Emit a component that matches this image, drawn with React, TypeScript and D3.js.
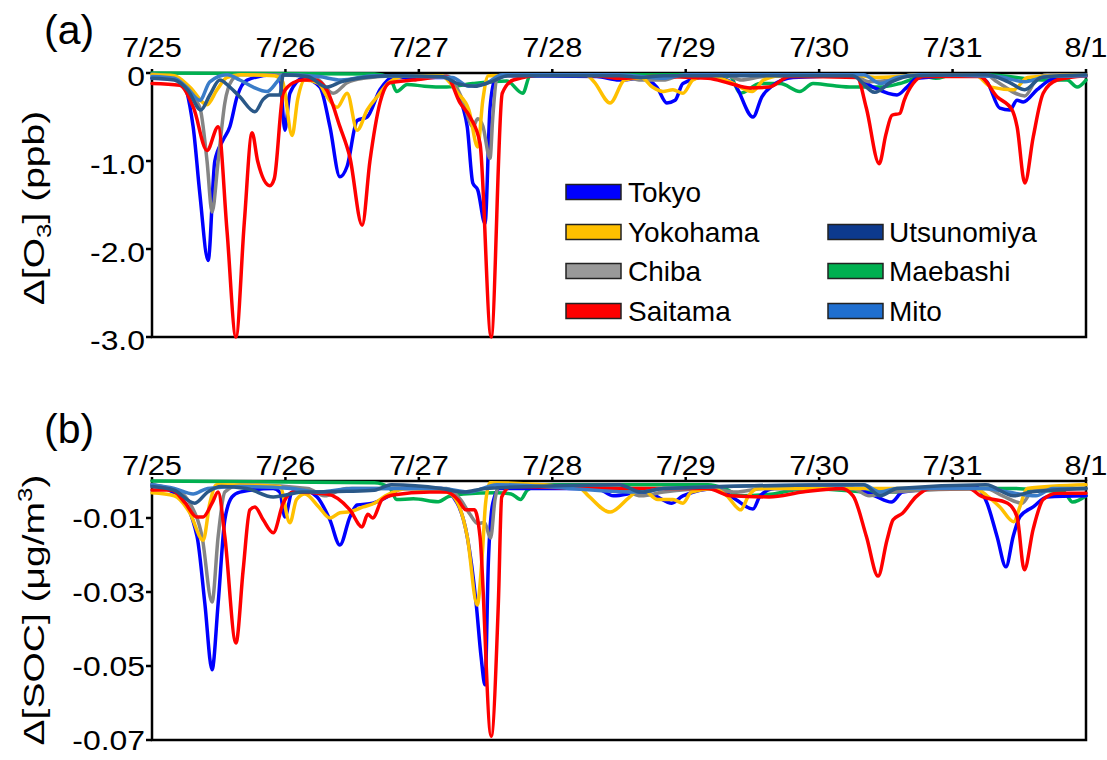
import React from "react";
import * as d3 from "d3";

type P = [number, number]; // [hours since 7/25 00:00, value]

const dateLabels = ["7/25", "7/26", "7/27", "7/28", "7/29", "7/30", "7/31", "8/1"];
const o3TickValues = [0, -1, -2, -3];
const o3TickLabels = ["0", "-1.0", "-2.0", "-3.0"];
const socTickValues = [-0.01, -0.03, -0.05, -0.07];
const socTickLabels = ["-0.01", "-0.03", "-0.05", "-0.07"];

const cities = ["Tokyo", "Yokohama", "Chiba", "Saitama", "Utsunomiya", "Maebashi", "Mito"];
const lineColors: Record<string, string> = {
  Tokyo: "#0000ff",
  Yokohama: "#ffc000",
  Chiba: "#858585",
  Saitama: "#ff0000",
  Utsunomiya: "#2a5888",
  Maebashi: "#00b050",
  Mito: "#3a7cc8",
};
const legendColors: Record<string, string> = {
  Tokyo: "#0000ff",
  Yokohama: "#ffc000",
  Chiba: "#999999",
  Saitama: "#ff0000",
  Utsunomiya: "#0d3a8e",
  Maebashi: "#00b050",
  Mito: "#1f6fd0",
};

// ---------- Δ[O3] (ppb) ----------
const tokyoO3: P[] = [[0,-0.06],[5,-0.07],[7.4,-0.61],[8.6,-1.37],[10.1,-2.13],[11.3,-1.0],[12.8,-0.76],[14,-0.61],[15.3,-0.27],[17.1,-0.08],[21.8,-0.02],[23,-0.05],[23.9,-0.65],[24.8,-0.23],[27.2,-0.06],[30.2,-0.16],[32,-0.61],[33.8,-1.18],[35.1,-1.06],[36.9,-0.54],[38.7,-0.5],[41,-0.19],[43.3,-0.05],[53,-0.05],[54.9,-0.23],[56.7,-0.61],[57.7,-1.25],[58.6,-1.33],[59.9,-1.71],[60.8,-0.4],[61.7,-0.08],[64,-0.03],[80,-0.04],[84,-0.08],[88,-0.06],[90.8,-0.16],[92.6,-0.34],[94.1,-0.31],[95.5,-0.12],[100,-0.04],[104.5,-0.11],[108.1,-0.5],[109.7,-0.27],[111.7,-0.14],[115.3,-0.05],[126,-0.03],[129.7,-0.16],[134,-0.25],[135.8,-0.16],[137.6,-0.06],[148,-0.02],[150.2,-0.1],[152.5,-0.4],[154.3,-0.42],[155.6,-0.31],[156.7,-0.33],[159.2,-0.19],[161.5,-0.08],[164.6,-0.03],[168,-0.03]];
const yokohamaO3: P[] = [[0,-0.02],[4,-0.03],[6.8,-0.16],[9.9,-0.36],[11.7,-0.19],[13.5,-0.05],[16,-0.02],[22,-0.03],[23.5,-0.1],[25.2,-0.71],[26.2,-0.3],[27.5,-0.08],[30,-0.12],[31.5,-0.27],[33.3,-0.39],[35.1,-0.23],[36.9,-0.65],[38.7,-0.42],[40.5,-0.27],[42.8,-0.1],[46,-0.03],[52,-0.03],[55,-0.23],[57,-0.42],[58.6,-0.84],[59.5,-0.31],[60.5,-0.03],[78,-0.02],[79.5,-0.1],[82.4,-0.34],[85,-0.08],[88,-0.05],[90,-0.16],[91.9,-0.21],[93.7,-0.19],[95.5,-0.23],[97.3,-0.08],[100,-0.03],[104,-0.1],[108,-0.21],[110,-0.08],[113,-0.03],[126,-0.02],[130,-0.05],[134,-0.04],[138,-0.02],[148,-0.02],[151,-0.16],[155,-0.19],[157.5,-0.05],[168,-0.02]];
const chibaO3: P[] = [[0,-0.01],[4,-0.05],[5.6,-0.16],[8.6,-0.39],[9.9,-1.0],[10.8,-1.58],[11.9,-1.0],[13.1,-0.34],[14.4,-0.08],[15.8,-0.02],[28,-0.03],[30,-0.08],[32.6,-0.23],[35.1,-0.11],[38,-0.06],[44,-0.03],[53,-0.03],[55.9,-0.31],[57.7,-0.61],[58.6,-0.52],[59.5,-0.6],[60.8,-0.97],[61.3,-0.5],[62,-0.08],[64,-0.02],[84,-0.03],[88,-0.08],[92,-0.08],[95,-0.03],[103,-0.02],[106,-0.08],[110,-0.04],[126,-0.02],[129,-0.1],[133,-0.08],[137,-0.02],[150,-0.02],[152,-0.1],[157,-0.26],[159,-0.08],[161,-0.02],[168,-0.02]];
const saitamaO3: P[] = [[0,-0.12],[5,-0.14],[7.5,-0.4],[9.9,-0.88],[11.9,-0.61],[13.5,-1.8],[15.1,-3.0],[16.6,-1.7],[18,-0.68],[19,-1.0],[21.2,-1.28],[22,-1.2],[23.6,-0.23],[25.4,-0.11],[27.2,-0.08],[29.3,-0.08],[31.5,-0.2],[33.8,-0.61],[35.6,-0.96],[37.8,-1.73],[39.2,-1.0],[41,-0.34],[42.8,-0.11],[47,-0.08],[53,-0.04],[55.4,-0.34],[57.2,-0.5],[59,-0.8],[61,-3.0],[63,-0.23],[65,-0.08],[71,-0.02],[80,-0.03],[84,-0.06],[90,-0.04],[100,-0.06],[104,-0.12],[107.6,-0.17],[111,-0.16],[114.7,-0.04],[126.8,-0.05],[128.5,-0.4],[130.8,-1.03],[132,-0.7],[133.1,-0.48],[134.5,-0.46],[135.3,-0.31],[136.9,-0.12],[138.7,-0.04],[148.9,-0.04],[152,-0.27],[154.7,-0.42],[155.6,-0.61],[157,-1.25],[158.5,-0.73],[160.3,-0.23],[162.8,-0.08],[168,-0.03]];
const utsunomiyaO3: P[] = [[0,-0.06],[4,-0.08],[6.5,-0.2],[8.8,-0.42],[10.4,-0.25],[12.2,-0.08],[14,-0.16],[15.8,-0.27],[18.5,-0.44],[20,-0.3],[21.2,-0.25],[23,-0.25],[23.6,-0.02],[28,-0.04],[31.5,-0.16],[34,-0.1],[38,-0.05],[43,-0.03],[52,-0.04],[55,-0.12],[58,-0.15],[61,-0.1],[64,-0.03],[84,-0.03],[88,-0.05],[92,-0.03],[126,-0.03],[130,-0.22],[133,-0.1],[137,-0.03],[150,-0.02],[154,-0.1],[157,-0.19],[160,-0.05],[168,-0.02]];
const maebashiO3: P[] = [[0,0],[40,-0.01],[42.8,-0.05],[44,-0.21],[45.9,-0.13],[49,-0.15],[53,-0.16],[57.7,-0.12],[63.8,-0.09],[66.7,-0.23],[68,-0.03],[75,-0.02],[100,-0.02],[104,-0.04],[105.8,-0.23],[109.4,-0.12],[113,-0.12],[116.5,-0.21],[118.9,-0.12],[122,-0.14],[126.1,-0.16],[130.9,-0.16],[134.5,-0.12],[138.7,-0.04],[141,-0.06],[144,-0.02],[150,-0.02],[161,-0.08],[164.6,-0.08],[166.4,-0.16],[168,-0.08]];
const mitoO3: P[] = [[0,-0.04],[4,-0.06],[6.2,-0.16],[8.6,-0.31],[10.4,-0.1],[13.5,-0.02],[15.8,-0.08],[18.2,-0.16],[20.7,-0.21],[22.5,-0.1],[23.6,-0.02],[30,-0.04],[34,-0.08],[40,-0.03],[54,-0.05],[57,-0.15],[60,-0.12],[63,-0.02],[84,-0.02],[88,-0.04],[92,-0.06],[96,-0.02],[128,-0.02],[131,-0.12],[134,-0.05],[138,-0.02],[152,-0.04],[157,-0.1],[161,-0.04],[168,-0.03]];

// ---------- Δ[SOC] (μg/m3) ----------
const tokyoSOC: P[] = [[0,-0.001],[5,-0.0043],[8.1,-0.015],[9.5,-0.033],[10.8,-0.051],[11.9,-0.033],[13.1,-0.0105],[14.4,-0.0043],[15.8,-0.003],[21.8,-0.002],[23,-0.003],[23.9,-0.0097],[25.2,-0.003],[27.2,-0.0024],[29.7,-0.0043],[32,-0.0105],[33.8,-0.0173],[35.6,-0.0097],[36.9,-0.0065],[39.7,-0.006],[42.3,-0.0043],[45,-0.002],[52,-0.002],[54.9,-0.006],[56.7,-0.015],[58.3,-0.033],[59.2,-0.0476],[59.9,-0.0551],[60.5,-0.022],[61.3,-0.006],[62.5,-0.002],[80,-0.002],[83,-0.004],[88,-0.003],[90.5,-0.004],[93.5,-0.006],[95.5,-0.004],[101.6,-0.002],[105,-0.005],[108.1,-0.0076],[109.4,-0.004],[112,-0.002],[126,-0.002],[130,-0.004],[133,-0.0057],[135,-0.003],[148,-0.0015],[150.2,-0.006],[152,-0.015],[153.6,-0.0232],[154.9,-0.015],[156.1,-0.0097],[158.5,-0.007],[161,-0.0043],[168,-0.004]];
const yokohamaSOC: P[] = [[0,-0.0032],[4,-0.004],[6.8,-0.0086],[9.2,-0.016],[10.4,-0.006],[11.6,-0.001],[23,-0.0015],[24.8,-0.0113],[26,-0.005],[27.5,-0.0035],[30,-0.007],[32,-0.01],[33.8,-0.0086],[35.6,-0.0083],[38,-0.007],[40,-0.006],[42,-0.004],[46,-0.002],[53,-0.003],[55,-0.006],[56.7,-0.015],[58.5,-0.0335],[59.4,-0.02],[60,-0.006],[60.8,-0.0005],[77,-0.002],[78.5,-0.004],[82.4,-0.0084],[85.8,-0.0045],[88,-0.002],[91,-0.005],[93.7,-0.005],[95.5,-0.006],[97,-0.003],[101,-0.002],[103.4,-0.004],[105.9,-0.0078],[107.3,-0.004],[109,-0.002],[148,-0.002],[150.2,-0.004],[152.5,-0.007],[155,-0.011],[156.1,-0.007],[157.4,-0.002],[168,-0.001]];
const chibaSOC: P[] = [[0,-0.001],[5,-0.003],[6.8,-0.006],[9,-0.015],[10.8,-0.0327],[11.9,-0.015],[13.1,-0.003],[15.8,-0.001],[28,-0.002],[31,-0.004],[35,-0.002],[53,-0.002],[55.5,-0.005],[57.2,-0.009],[58.6,-0.0115],[59.8,-0.0112],[60.9,-0.0154],[61.7,-0.005],[62.5,-0.001],[84,-0.002],[88,-0.004],[92,-0.003],[100,-0.002],[105,-0.003],[110,-0.002],[126,-0.002],[129,-0.004],[133,-0.003],[150,-0.002],[153,-0.004],[156.5,-0.006],[158.5,-0.0025],[168,-0.002]];
const saitamaSOC: P[] = [[0,-0.0024],[3.5,-0.0024],[6,-0.006],[8,-0.0097],[9.2,-0.0097],[10.8,-0.006],[11.9,-0.003],[13.1,-0.015],[15.1,-0.0438],[16.4,-0.024],[17.6,-0.0078],[18.5,-0.007],[20,-0.0105],[21.8,-0.014],[23.6,-0.006],[25.4,-0.003],[31.5,-0.0035],[35.6,-0.0078],[37.8,-0.0124],[38.8,-0.009],[39.7,-0.01],[41.4,-0.005],[43.3,-0.0038],[50,-0.003],[53,-0.003],[55,-0.005],[56.5,-0.0078],[58,-0.0078],[59,-0.015],[61,-0.069],[62.3,-0.033],[62.9,-0.0043],[64.6,-0.0015],[80,-0.002],[90,-0.002],[100,-0.002],[104,-0.004],[111,-0.0043],[117,-0.003],[124,-0.002],[126.1,-0.004],[128.5,-0.015],[130.6,-0.0257],[132.2,-0.016],[133.3,-0.0105],[135,-0.0087],[137.4,-0.0043],[139.9,-0.002],[147,-0.002],[149,-0.004],[153.9,-0.006],[155.6,-0.0097],[156.9,-0.024],[158.5,-0.013],[160.3,-0.005],[162.8,-0.0033],[168,-0.0033]];
const utsunomiyaSOC: P[] = [[0,-0.0015],[4,-0.0025],[7.7,-0.006],[10,-0.003],[12.5,-0.0015],[17,-0.002],[21.8,-0.0043],[27,-0.003],[35,-0.0028],[40,-0.0025],[43,-0.001],[52,-0.002],[56,-0.003],[60,-0.002],[84,-0.001],[88,-0.003],[92,-0.002],[128,-0.001],[131,-0.004],[134,-0.002],[150,-0.001],[155,-0.004],[158,-0.003],[168,-0.002]];
const maebashiSOC: P[] = [[0,0],[40,-0.0005],[42.8,-0.002],[44,-0.005],[47,-0.0048],[51.5,-0.0056],[53.3,-0.0042],[56,-0.0035],[62,-0.0032],[64.6,-0.0035],[66.3,-0.005],[67.5,-0.0025],[70,-0.001],[100,-0.001],[103,-0.002],[105.8,-0.004],[111.7,-0.0035],[115,-0.0025],[118,-0.002],[130,-0.003],[134,-0.003],[138,-0.002],[145,-0.002],[155,-0.002],[160,-0.0025],[164,-0.003],[165.6,-0.0057],[168,-0.004]];
const mitoSOC: P[] = [[0,-0.001],[4,-0.002],[7.4,-0.0035],[10,-0.002],[16,-0.0015],[25,-0.002],[30,-0.003],[36,-0.002],[52,-0.002],[57,-0.003],[62,-0.001],[88,-0.003],[92,-0.002],[128,-0.001],[131,-0.003],[134,-0.002],[150,-0.002],[154,-0.003],[159,-0.004],[162,-0.002],[168,-0.002]];

const o3Series: Record<string, P[]> = {
  Tokyo: tokyoO3, Yokohama: yokohamaO3, Chiba: chibaO3, Saitama: saitamaO3,
  Utsunomiya: utsunomiyaO3, Maebashi: maebashiO3, Mito: mitoO3,
};
const socSeries: Record<string, P[]> = {
  Tokyo: tokyoSOC, Yokohama: yokohamaSOC, Chiba: chibaSOC, Saitama: saitamaSOC,
  Utsunomiya: utsunomiyaSOC, Maebashi: maebashiSOC, Mito: mitoSOC,
};

const drawOrder = ["Maebashi", "Tokyo", "Chiba", "Yokohama", "Saitama", "Mito", "Utsunomiya"];

const FONT = "'Liberation Sans', Arial, sans-serif";
const X0 = 152, X1 = 1086;

function Panel(props: {
  series: Record<string, P[]>;
  yDomain: [number, number];
  yRange: [number, number];
  tickValues: number[];
  tickLabels: string[];
  labelDy: number;
  dateY: number;
}) {
  const { series, yDomain, yRange, tickValues, tickLabels, labelDy, dateY } = props;
  const x = d3.scaleLinear().domain([0, 168]).range([X0, X1]);
  const y = d3.scaleLinear().domain(yDomain).range(yRange);
  const line = d3.line<P>().x((d) => x(d[0])).y((d) => y(d[1])).curve(d3.curveMonotoneX);
  const top = y(0);
  const bottom = y(yDomain[0]);
  return (
    <g>
      <rect x={X0} y={top} width={X1 - X0} height={bottom - top} fill="none" stroke="#000" strokeWidth={2.5} />
      {dateLabels.map((lab, i) => (
        <g key={lab}>
          <line x1={x(i * 24)} x2={x(i * 24)} y1={top} y2={top - 4} stroke="#000" strokeWidth={2.5} />
          <text
            transform={`translate(${x(i * 24)},${dateY}) scale(1.1,1)`}
            textAnchor="middle"
            fontSize={28}
            fontFamily={FONT}
          >
            {lab}
          </text>
        </g>
      ))}
      {tickValues.map((v, i) => (
        <g key={i}>
          <line x1={X0 - 6} x2={X0} y1={y(v)} y2={y(v)} stroke="#000" strokeWidth={2.5} />
          <text
            transform={`translate(${X0 - 7},${y(v) + labelDy}) scale(1.14,1)`}
            textAnchor="end"
            fontSize={28}
            fontFamily={FONT}
          >
            {tickLabels[i]}
          </text>
        </g>
      ))}
      {drawOrder.map((c) => (
        <path
          key={c}
          d={line(series[c]) || ""}
          fill="none"
          stroke={lineColors[c]}
          strokeWidth={3.5}
          strokeLinejoin="round"
          strokeLinecap="round"
        />
      ))}
    </g>
  );
}

const legendCol1 = ["Tokyo", "Yokohama", "Chiba", "Saitama"];
const legendCol2 = ["Utsunomiya", "Maebashi", "Mito"];
const legendRowY = [192, 232, 271, 311];

export default function App() {
  return (
    <svg
      width={1107}
      height={760}
      style={{ position: "absolute", left: 0, top: 0, background: "#fff" }}
      fontFamily={FONT}
    >
      <rect x={0} y={0} width={1107} height={760} fill="#fff" />
      <Panel
        series={o3Series}
        yDomain={[-3, 0]}
        yRange={[337, 73]}
        tickValues={o3TickValues}
        tickLabels={o3TickLabels}
        labelDy={13}
        dateY={57}
      />
      <Panel
        series={socSeries}
        yDomain={[-0.07, 0]}
        yRange={[740, 481]}
        tickValues={socTickValues}
        tickLabels={socTickLabels}
        labelDy={10}
        dateY={475}
      />
      <text x={44} y={44} fontSize={41} fontFamily={FONT}>(a)</text>
      <text x={44} y={443} fontSize={41} fontFamily={FONT}>(b)</text>
      <text transform="translate(44,208) rotate(-90) scale(1.3,1)" textAnchor="middle" fontSize={30} fontFamily={FONT}>
        Δ[O<tspan fontSize={20} dy={7}>3</tspan><tspan dy={-7}>] (ppb)</tspan>
      </text>
      <text transform="translate(44,610) rotate(-90) scale(1.3,1)" textAnchor="middle" fontSize={30} fontFamily={FONT}>
        Δ[SOC] (μg/m<tspan fontSize={20} dy={-12}>3</tspan><tspan dy={12}>)</tspan>
      </text>
      {legendCol1.map((c, i) => (
        <g key={c}>
          <rect x={566} y={legendRowY[i] - 7.5} width={55} height={15} fill={legendColors[c]} stroke="#222" strokeWidth={1.5} />
          <text x={628} y={legendRowY[i] + 10} fontSize={28} fontFamily={FONT}>{c}</text>
        </g>
      ))}
      {legendCol2.map((c, i) => (
        <g key={c}>
          <rect x={828} y={legendRowY[i + 1] - 7.5} width={55} height={15} fill={legendColors[c]} stroke="#222" strokeWidth={1.5} />
          <text x={889} y={legendRowY[i + 1] + 10} fontSize={28} fontFamily={FONT}>{c}</text>
        </g>
      ))}
    </svg>
  );
}
